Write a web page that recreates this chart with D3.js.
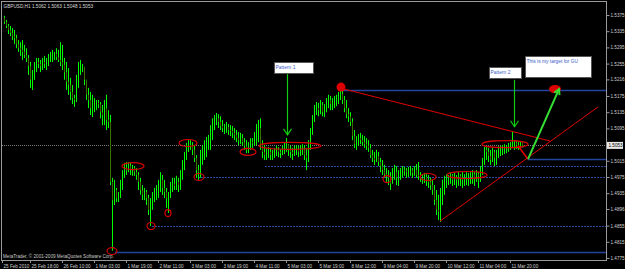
<!DOCTYPE html>
<html>
<head>
<meta charset="utf-8">
<script src="https://cdn.jsdelivr.net/npm/d3@7"></script>
<style>
  html, body { margin: 0; padding: 0; background: #000; }
  svg { display: block; }
  text { font-family: "Liberation Sans", Arial, sans-serif; }
</style>
</head>
<body>
<svg id="chart" width="625" height="269"></svg>
<script>
// GBPUSD H1, one value per hourly bar
var firstOpen = 1.5368;
var highs = [
  1.5373,1.5363,1.5353,1.5348,1.5343,1.5338,1.5326,1.5313,1.5308,1.5313,
  1.5301,1.5293,1.5276,1.5259,1.5239,1.5259,1.5269,1.5269,1.5264,1.5269,
  1.5274,1.5269,1.5279,1.5284,1.5289,1.5284,1.5293,1.5289,1.5308,1.5301,
  1.5269,1.5259,1.5244,1.5220,1.5202,1.5178,1.5227,1.5259,1.5264,1.5254,
  1.5239,1.5215,1.5195,1.5185,1.5178,1.5170,1.5165,1.5165,1.5160,1.5153,
  1.5165,1.5178,1.5140,1.5128,1.4973,1.4968,1.4948,1.4938,1.4968,1.4992,
  1.5010,1.5012,1.5012,1.5010,1.5005,1.5002,1.4997,1.4987,1.4973,1.4955,
  1.4948,1.4943,1.4931,1.4923,1.4938,1.4948,1.4955,1.4968,1.4987,1.4980,
  1.4968,1.4948,1.4938,1.4963,1.4973,1.4973,1.4978,1.4973,1.4992,1.5017,
  1.5037,1.5059,1.5066,1.5066,1.5061,1.5054,1.5029,1.5005,1.5042,1.5054,
  1.5066,1.5074,1.5079,1.5103,1.5120,1.5128,1.5133,1.5130,1.5125,1.5116,
  1.5106,1.5111,1.5106,1.5103,1.5101,1.5096,1.5091,1.5086,1.5084,1.5081,
  1.5071,1.5066,1.5061,1.5071,1.5071,1.5086,1.5106,1.5116,1.5120,1.5066,
  1.5054,1.5047,1.5049,1.5047,1.5042,1.5047,1.5052,1.5049,1.5044,1.5052,
  1.5061,1.5071,1.5056,1.5052,1.5047,1.5052,1.5054,1.5052,1.5054,1.5056,
  1.5054,1.5047,1.5066,1.5096,1.5128,1.5153,1.5160,1.5158,1.5165,1.5160,
  1.5155,1.5170,1.5178,1.5175,1.5170,1.5175,1.5178,1.5185,1.5195,1.5192,
  1.5175,1.5165,1.5145,1.5135,1.5120,1.5091,1.5076,1.5081,1.5084,1.5079,
  1.5076,1.5071,1.5066,1.5056,1.5042,1.5037,1.5042,1.5037,1.5022,1.5017,
  1.5005,1.4997,1.4992,1.4987,1.4997,1.5005,1.5002,1.4992,1.4997,1.5002,
  1.5000,1.4997,1.5000,1.5002,1.4997,1.5002,1.5007,1.5012,1.4987,1.4982,
  1.4985,1.4982,1.4980,1.4973,1.4968,1.4955,1.4943,1.4931,1.4948,1.4968,
  1.4978,1.4982,1.4980,1.4987,1.4982,1.4985,1.4980,1.4987,1.4982,1.4987,
  1.4982,1.4987,1.4985,1.4987,1.4992,1.4987,1.4992,1.4987,1.5002,1.5022,
  1.5049,1.5049,1.5047,1.5042,1.5047,1.5042,1.5042,1.5052,1.5052,1.5054,
  1.5056,1.5054,1.5059,1.5061,1.5086,1.5066,1.5064,1.5061,1.5064,1.5063
];
var lows = [
  1.5353,1.5343,1.5328,1.5323,1.5313,1.5303,1.5293,1.5284,1.5274,1.5264,
  1.5269,1.5259,1.5227,1.5195,1.5190,1.5215,1.5234,1.5244,1.5234,1.5239,
  1.5244,1.5239,1.5249,1.5259,1.5259,1.5264,1.5264,1.5259,1.5249,1.5239,
  1.5215,1.5190,1.5178,1.5165,1.5155,1.5148,1.5160,1.5195,1.5227,1.5234,
  1.5202,1.5165,1.5145,1.5128,1.5123,1.5135,1.5140,1.5145,1.5120,1.5103,
  1.5103,1.5091,1.5096,1.4955,1.4793,1.4906,1.4913,1.4913,1.4923,1.4943,
  1.4973,1.4980,1.4987,1.4980,1.4978,1.4978,1.4968,1.4943,1.4931,1.4918,
  1.4918,1.4906,1.4881,1.4854,1.4894,1.4913,1.4918,1.4923,1.4938,1.4931,
  1.4923,1.4899,1.4886,1.4923,1.4938,1.4943,1.4943,1.4938,1.4943,1.4968,
  1.4992,1.5017,1.5037,1.5042,1.5029,1.5012,1.4973,1.4968,1.4973,1.5005,
  1.5017,1.5024,1.5042,1.5042,1.5066,1.5091,1.5103,1.5096,1.5091,1.5086,
  1.5081,1.5084,1.5079,1.5076,1.5071,1.5066,1.5061,1.5054,1.5056,1.5052,
  1.5042,1.5034,1.5034,1.5042,1.5047,1.5052,1.5054,1.5061,1.5042,1.5022,
  1.5017,1.5017,1.5022,1.5017,1.5017,1.5022,1.5027,1.5024,1.5022,1.5029,
  1.5032,1.5037,1.5027,1.5022,1.5017,1.5027,1.5029,1.5024,1.5027,1.5029,
  1.5017,1.4992,1.5012,1.5042,1.5079,1.5111,1.5128,1.5125,1.5130,1.5125,
  1.5123,1.5135,1.5145,1.5140,1.5140,1.5145,1.5150,1.5155,1.5165,1.5155,
  1.5135,1.5120,1.5111,1.5101,1.5066,1.5047,1.5042,1.5052,1.5056,1.5052,
  1.5047,1.5042,1.5037,1.5022,1.5012,1.5005,1.5012,1.5002,1.4987,1.4980,
  1.4973,1.4963,1.4955,1.4943,1.4963,1.4968,1.4955,1.4953,1.4968,1.4973,
  1.4978,1.4973,1.4975,1.4978,1.4973,1.4978,1.4973,1.4968,1.4963,1.4958,
  1.4960,1.4953,1.4948,1.4943,1.4931,1.4906,1.4881,1.4869,1.4864,1.4906,
  1.4931,1.4948,1.4955,1.4958,1.4953,1.4955,1.4948,1.4953,1.4953,1.4948,
  1.4953,1.4955,1.4953,1.4958,1.4958,1.4953,1.4963,1.4948,1.4963,1.4980,
  1.5005,1.5017,1.5012,1.5005,1.5012,1.5002,1.5005,1.5022,1.5027,1.5029,
  1.5032,1.5034,1.5037,1.5042,1.5047,1.5042,1.5044,1.5042,1.5042,1.5048
];
var closes = [
  1.5358,1.5348,1.5338,1.5331,1.5323,1.5318,1.5303,1.5293,1.5289,1.5284,
  1.5276,1.5269,1.5249,1.5215,1.5227,1.5244,1.5259,1.5254,1.5249,1.5259,
  1.5254,1.5264,1.5269,1.5274,1.5276,1.5279,1.5271,1.5264,1.5259,1.5252,
  1.5234,1.5210,1.5202,1.5185,1.5170,1.5165,1.5215,1.5239,1.5244,1.5247,
  1.5215,1.5178,1.5165,1.5145,1.5153,1.5155,1.5158,1.5155,1.5135,1.5128,
  1.5145,1.5116,1.5111,1.4963,1.4918,1.4943,1.4923,1.4928,1.4955,1.4980,
  1.4997,1.4992,1.5002,1.4992,1.4997,1.4987,1.4980,1.4963,1.4943,1.4931,
  1.4938,1.4923,1.4894,1.4906,1.4923,1.4931,1.4938,1.4955,1.4968,1.4948,
  1.4938,1.4923,1.4928,1.4948,1.4958,1.4953,1.4963,1.4955,1.4980,1.5005,
  1.5022,1.5047,1.5054,1.5052,1.5042,1.5022,1.4992,1.4987,1.5017,1.5029,
  1.5042,1.5054,1.5066,1.5091,1.5103,1.5116,1.5120,1.5111,1.5101,1.5096,
  1.5096,1.5098,1.5091,1.5089,1.5084,1.5079,1.5071,1.5066,1.5071,1.5061,
  1.5052,1.5042,1.5052,1.5061,1.5059,1.5066,1.5079,1.5096,1.5054,1.5037,
  1.5029,1.5032,1.5037,1.5029,1.5032,1.5037,1.5042,1.5037,1.5034,1.5042,
  1.5047,1.5054,1.5042,1.5037,1.5032,1.5042,1.5044,1.5037,1.5042,1.5044,
  1.5029,1.5022,1.5054,1.5086,1.5116,1.5140,1.5145,1.5140,1.5153,1.5135,
  1.5140,1.5160,1.5165,1.5155,1.5160,1.5165,1.5165,1.5175,1.5180,1.5165,
  1.5145,1.5130,1.5125,1.5111,1.5076,1.5056,1.5061,1.5071,1.5066,1.5061,
  1.5056,1.5052,1.5047,1.5029,1.5022,1.5017,1.5027,1.5012,1.5002,1.4992,
  1.4982,1.4978,1.4973,1.4958,1.4980,1.4987,1.4973,1.4978,1.4987,1.4992,
  1.4990,1.4987,1.4992,1.4992,1.4985,1.4992,1.4980,1.4978,1.4973,1.4973,
  1.4975,1.4968,1.4963,1.4955,1.4943,1.4918,1.4894,1.4889,1.4918,1.4955,
  1.4963,1.4968,1.4973,1.4978,1.4968,1.4975,1.4968,1.4978,1.4973,1.4968,
  1.4973,1.4975,1.4978,1.4980,1.4982,1.4973,1.4982,1.4978,1.4992,1.5012,
  1.5042,1.5037,1.5027,1.5017,1.5037,1.5022,1.5032,1.5042,1.5044,1.5047,
  1.5049,1.5047,1.5052,1.5054,1.5056,1.5059,1.5054,1.5052,1.5062,1.5053
];

var priceTicks = [1.5375,1.5335,1.5295,1.5255,1.5216,1.5175,1.5135,1.5095,1.5015,1.4975,1.4935,1.4896,1.4855,1.4815,1.4775];
var timeLabels = ['25 Feb 2010','25 Feb 18:00','26 Feb 10:00','1 Mar 03:00','1 Mar 19:00','2 Mar 11:00','3 Mar 03:00','3 Mar 19:00','4 Mar 11:00','5 Mar 03:00','5 Mar 19:00','8 Mar 12:00','9 Mar 04:00','9 Mar 20:00','10 Mar 12:00','11 Mar 04:00','11 Mar 20:00'];
var timeBars = [-1,13,29,45,61,77,93,109,125,141,157,173,189,205,221,237,253];

// horizontal lines drawn on the chart: price, first bar, style
var levelPrices = [1.5191, 1.5019, 1.5002, 1.4975, 1.4854, 1.4790];
var levelFrom   = [168.5, 262, 130.5, 97, 74, 55.5];
var levelDotted = [false, false, true, true, true, false];

// red ovals: bar span and centre price
var ovalBars = [[59,70],[87.5,96.5],[95,100],[118,126],[127.5,158.5],[189.5,193.5],[208,216],[221.5,241.5],[239,262],[51.5,56.5],[71.5,75.5],[80.5,83.5]];
var ovalPrices = [1.5002,1.5059,1.4975,1.5037,1.5052,1.4970,1.4975,1.4980,1.5056,1.4792,1.4854,1.4886];

// red lines: [bar, price] pairs
var redLines = [
  [[168.5,1.5194],[273,1.5064]],
  [[218,1.4866],[297,1.5148]],
  [[257,1.5052],[262,1.5019]]
];
var targetArrow = [[262,1.5019],[277.5,1.5192]];
var peakDot = [168.5, 1.5197];
var targetDot = [275.5, 1.5192];

// text boxes: text, bar, price of top left corner
var boxTexts  = ['Pattern 1', 'Pattern 2', 'This is my target for GU'];
var boxBars   = [135, 242.5, 260.5];
var boxPrices = [1.5259, 1.5247, 1.5274];
var pointerBars = [141.5, 255];
var pointerFrom = [1.5229, 1.5215];
var pointerTo   = [1.5079, 1.5099];

var titleText = 'GBPUSD,H1  1.5062 1.5063 1.5048 1.5053';
var copyText = 'MetaTrader, \u00a9 2001-2009 MetaQuotes Software Corp.';

var svg = d3.select('#chart');
var x = d3.scaleLinear().domain([0, 301.5]).range([4, 607]);
var y = d3.scaleLinear().domain([1.4775, 1.5375]).range([258, 15]);

svg.append('rect').attr('width', 625).attr('height', 269).attr('fill', '#000');

svg.append('clipPath').attr('id', 'clip')
  .append('rect').attr('x', 2).attr('y', 2).attr('width', 604).attr('height', 258);
var g = svg.append('g').attr('clip-path', 'url(#clip)');

// current price line
var last = closes[closes.length - 1];
g.append('line')
  .attr('x1', 2).attr('x2', 606)
  .attr('y1', Math.round(y(last)) + 0.5).attr('y2', Math.round(y(last)) + 0.5)
  .attr('stroke', '#7a7a7a').attr('stroke-dasharray', '1,1');

// horizontal levels
levelPrices.forEach(function(p, i) {
  var yy = Math.round(y(p)) + 0.5;
  g.append('line')
    .attr('x1', x(levelFrom[i])).attr('x2', 606)
    .attr('y1', yy).attr('y2', yy)
    .attr('stroke', levelDotted[i] ? '#2c4a9c' : '#24449e')
    .attr('stroke-width', levelDotted[i] ? 1 : 1.5)
    .attr('stroke-dasharray', levelDotted[i] ? '2,1' : null);
});

// candles
var bars = closes.map(function(c, i) {
  return { i: i, o: i ? closes[i - 1] : firstOpen, h: highs[i], l: lows[i], c: c };
});
g.selectAll('line.wick').data(bars).enter().append('line')
  .attr('class', 'wick')
  .attr('x1', function(d) { return x(d.i) + 0.5; })
  .attr('x2', function(d) { return x(d.i) + 0.5; })
  .attr('y1', function(d) { return y(d.h); })
  .attr('y2', function(d) { return y(d.l); })
  .attr('stroke', '#00ff00').attr('stroke-width', 1);
g.selectAll('rect.body').data(bars).enter().append('rect')
  .attr('class', 'body')
  .attr('x', function(d) { return x(d.i); })
  .attr('width', 1)
  .attr('y', function(d) { return y(Math.max(d.o, d.c)); })
  .attr('height', function(d) { return Math.max(1, Math.abs(y(d.o) - y(d.c))); })
  .attr('fill', function(d) { return d.c >= d.o ? '#00ff00' : '#387000'; });

// red ovals
ovalBars.forEach(function(b, i) {
  var cx = (x(b[0]) + x(b[1])) / 2, rx = (x(b[1]) - x(b[0])) / 2;
  g.append('ellipse')
    .attr('cx', cx).attr('cy', y(ovalPrices[i]))
    .attr('rx', rx).attr('ry', 3.5)
    .attr('fill', 'none').attr('stroke', '#d40000').attr('stroke-width', 1.2);
});

// red lines
redLines.forEach(function(seg, i) {
  g.append('line')
    .attr('x1', x(seg[0][0])).attr('y1', y(seg[0][1]))
    .attr('x2', x(seg[1][0])).attr('y2', y(seg[1][1]))
    .attr('stroke', '#e00000').attr('stroke-width', i === 2 ? 1.6 : 1);
});

g.append('circle').attr('cx', x(peakDot[0])).attr('cy', y(peakDot[1])).attr('r', 4.5).attr('fill', '#dd0000');
g.append('ellipse').attr('cx', x(targetDot[0])).attr('cy', y(targetDot[1])).attr('rx', 6).attr('ry', 4).attr('fill', '#dd0000');

// green arrow to the target
(function() {
  var x1 = x(targetArrow[0][0]), y1 = y(targetArrow[0][1]);
  var x2 = x(targetArrow[1][0]), y2 = y(targetArrow[1][1]);
  var a = Math.atan2(y2 - y1, x2 - x1), L = 6, w = 0.5;
  g.append('line').attr('x1', x1).attr('y1', y1).attr('x2', x2).attr('y2', y2)
    .attr('stroke', '#33e033').attr('stroke-width', 2);
  g.append('path')
    .attr('d', 'M' + (x2 - L * Math.cos(a - w)) + ',' + (y2 - L * Math.sin(a - w)) +
      'L' + x2 + ',' + y2 + 'L' + (x2 - L * Math.cos(a + w)) + ',' + (y2 - L * Math.sin(a + w)))
    .attr('fill', 'none').attr('stroke', '#33e033').attr('stroke-width', 2);
})();

// pattern pointers
pointerBars.forEach(function(b, i) {
  var xx = Math.round(x(b)) + 0.5, y1 = y(pointerFrom[i]), y2 = y(pointerTo[i]);
  g.append('line').attr('x1', xx).attr('x2', xx).attr('y1', y1).attr('y2', y2)
    .attr('stroke', '#11cc11').attr('stroke-width', 1.2);
  g.append('path')
    .attr('d', 'M' + (xx - 4) + ',' + (y2 - 6) + 'L' + xx + ',' + y2 + 'L' + (xx + 4) + ',' + (y2 - 6))
    .attr('fill', 'none').attr('stroke', '#11cc11').attr('stroke-width', 1.2);
});

// text boxes
var boxW = [39, 32, 66], boxH = [11, 11, 21];
boxTexts.forEach(function(t, i) {
  var bx = Math.round(x(boxBars[i])) + 0.5, by = Math.round(y(boxPrices[i])) + 0.5;
  g.append('rect').attr('x', bx).attr('y', by).attr('width', boxW[i]).attr('height', boxH[i])
    .attr('fill', '#fff').attr('stroke', '#555').attr('stroke-width', 1);
  g.append('text').attr('x', bx + 1).attr('y', by + 6.5).text(t)
    .attr('font-size', 4.9).attr('fill', '#3a5bc8');
});

// frame
svg.append('rect').attr('x', 1.5).attr('y', 1.5).attr('width', 605).attr('height', 259)
  .attr('fill', 'none').attr('stroke', '#9a9a9a');

// titles
svg.append('text').attr('x', 3.5).attr('y', 7.5).text(titleText)
  .attr('font-size', 4.7).attr('fill', '#d8d8d8');
svg.append('text').attr('x', 3).attr('y', 257.5).text(copyText)
  .attr('font-size', 4.6).attr('fill', '#c8c8c8');

// price axis
var yAxis = d3.axisRight(y).tickValues(priceTicks).tickSize(3).tickPadding(1)
  .tickFormat(d3.format('.4f'));
var ya = svg.append('g').attr('transform', 'translate(606.5,0)').call(yAxis);
ya.select('.domain').remove();
ya.selectAll('line').attr('stroke', '#9a9a9a');
ya.selectAll('text').attr('fill', '#d0d0d0').attr('font-size', 4.6)
  .attr('font-family', '"Liberation Sans", Arial, sans-serif');

// current price tag
var ly = y(last);
svg.append('rect').attr('x', 607).attr('y', ly - 3.5).attr('width', 16).attr('height', 7).attr('fill', '#e8e8e8');
svg.append('text').attr('x', 608.5).attr('y', ly + 1.6).text(d3.format('.4f')(last))
  .attr('font-size', 4.6).attr('fill', '#000');

// time axis
timeBars.forEach(function(b, i) {
  var xx = Math.max(2, Math.round(x(b))) + 0.5;
  svg.append('line').attr('x1', xx).attr('x2', xx).attr('y1', 260.5).attr('y2', 263)
    .attr('stroke', '#9a9a9a');
  svg.append('text').attr('x', xx + 1).attr('y', 267.5).text(timeLabels[i])
    .attr('font-size', 4.6).attr('fill', '#d0d0d0');
});
</script>
</body>
</html>
